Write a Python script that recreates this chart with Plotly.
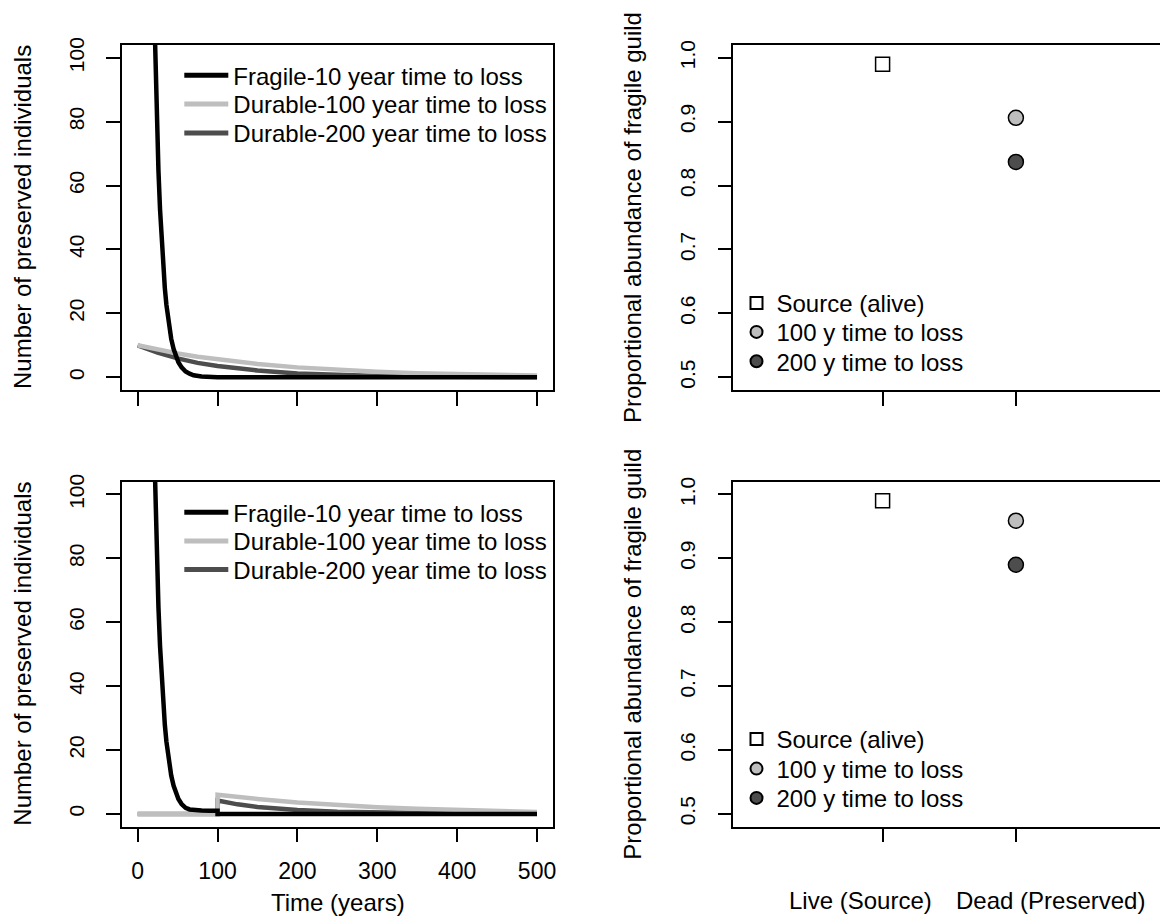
import plotly.graph_objects as go

W, H = 1160, 924
FONT = "Liberation Sans, Arial, Helvetica, sans-serif"

# ---------------- data ----------------
# Left panels: number of preserved individuals over time (years)
frag_t = [0, 10, 18, 20, 22, 24, 26, 28, 30, 32, 34, 36, 38, 40, 42, 45, 48, 51, 55, 60,
          65, 70, 80, 90, 100, 200, 300, 400, 500]
frag_top = [1000, 368, 150, 122, 98.7, 79.9, 64.7, 52.5, 42.5, 34.4, 27.9, 22.6, 18.3, 14.8, 12.0,
            8.8, 6.4, 4.7, 3.1, 1.8, 1.1, 0.6, 0.2, 0.08, 0.03, 0, 0, 0, 0]

dur100_t = [0, 25, 50, 75, 100, 150, 200, 250, 300, 350, 400, 450, 500]
dur100_top = [10, 8.6, 7.45, 6.4, 5.55, 4.14, 3.08, 2.3, 1.71, 1.28, 0.95, 0.71, 0.53]

dur200_t = [0, 25, 50, 75, 100, 150, 200, 250, 300, 400, 500]
dur200_top = [10, 7.7, 5.9, 4.5, 3.5, 2.1, 1.2, 0.7, 0.42, 0.15, 0.05]

frag_bot_t = [0, 10, 18, 20, 22, 24, 26, 28, 30, 32, 34, 36, 38, 40, 42, 45, 48, 51, 55, 60,
              65, 70, 80, 90, 100, 100, 200, 300, 400, 500]
frag_bot = [1000, 368, 150, 122, 98.7, 79.9, 64.7, 52.5, 42.5, 34.4, 27.9, 22.6, 18.3, 14.8, 12.0,
            8.8, 6.4, 4.7, 3.1, 1.9, 1.4, 1.2, 1.1, 1.0, 1.0, 0, 0, 0, 0, 0]

dur100_bot_t = [0, 100, 100, 125, 150, 200, 250, 300, 350, 400, 450, 500]
dur100_bot = [0, 0, 6.0, 5.3, 4.7, 3.6, 2.8, 2.1, 1.6, 1.2, 0.85, 0.6]

dur200_bot_t = [0, 100, 100, 125, 150, 200, 250, 300, 400, 500]
dur200_bot = [0, 0, 4.2, 3.0, 2.2, 1.2, 0.7, 0.4, 0.15, 0.05]

line_names = ["Fragile-10 year time to loss", "Durable-100 year time to loss",
              "Durable-200 year time to loss"]

# Right panels: proportional abundance of fragile guild
categories = ["Live (Source)", "Dead (Preserved)"]
cat_x = [1, 2]
point_names = ["Source (alive)", "100 y time to loss", "200 y time to loss"]
prop_top = [0.990, 0.906, 0.837]
prop_bot = [0.990, 0.959, 0.890]

time_ticks = [0, 100, 200, 300, 400, 500]
count_ticks = [0, 20, 40, 60, 80, 100]
prop_ticks = [0.5, 0.6, 0.7, 0.8, 0.9, 1.0]
prop_ticklabels = ["0.5", "0.6", "0.7", "0.8", "0.9", "1.0"]

y_title_left = "Number of preserved individuals"
y_title_right = "Proportional abundance of fragile guild"
x_title = "Time (years)"

# ---------------- styling ----------------
C_BLACK = "#000000"
C_LIGHT = "#bebebe"
C_DARK = "#4d4d4d"
LW = 4.5


def px_x(p):
    return p / W


def px_y(p):
    return 1 - p / H


fig = go.Figure()

legend_layouts = {}
leg_counter = [0]


def new_legend(x_px, y_px, size=24, itemwidth=30):
    leg_counter[0] += 1
    k = leg_counter[0]
    key = "legend" if k == 1 else f"legend{k}"
    legend_layouts[key] = dict(
        x=px_x(x_px), y=px_y(y_px), xanchor="left", yanchor="middle",
        bgcolor="rgba(0,0,0,0)", borderwidth=0,
        font=dict(family=FONT, size=size, color="black"),
        itemwidth=itemwidth, itemsizing="constant",
    )
    return key


def add_lines(row_axes, data, legend_rows):
    xa, ya = row_axes
    order = [2, 1, 0]
    colors = [C_BLACK, C_LIGHT, C_DARK]
    for i in order:
        t, v = data[i]
        fig.add_trace(go.Scatter(
            x=t, y=v, mode="lines", name=line_names[i],
            line=dict(color=colors[i], width=LW),
            xaxis=xa, yaxis=ya, legend=legend_rows[i], hoverinfo="skip",
        ))


LEG_X_LEFT = 179.3
LEG_IW = 44
top_left_rows = [new_legend(LEG_X_LEFT, y, itemwidth=LEG_IW) for y in (75.7, 104.5, 133.3)]
bot_left_rows = [new_legend(LEG_X_LEFT, y, itemwidth=LEG_IW) for y in (512.7, 541.3, 570)]

add_lines(("x", "y"), [(frag_t, frag_top), (dur100_t, dur100_top), (dur200_t, dur200_top)], top_left_rows)
add_lines(("x3", "y3"), [(frag_bot_t, frag_bot), (dur100_bot_t, dur100_bot), (dur200_bot_t, dur200_bot)],
          bot_left_rows)


def add_points(row_axes, values, legend_rows):
    xa, ya = row_axes
    styles = [
        dict(symbol="square", size=14, color="white", line=dict(color="black", width=1.5)),
        dict(symbol="circle", size=15, color=C_LIGHT, line=dict(color="black", width=1.5)),
        dict(symbol="circle", size=15, color=C_DARK, line=dict(color="black", width=1.5)),
    ]
    xs = [cat_x[0], cat_x[1], cat_x[1]]
    for i in range(3):
        fig.add_trace(go.Scatter(
            x=[xs[i]], y=[values[i]], mode="markers", name=point_names[i],
            marker=styles[i], xaxis=xa, yaxis=ya, legend=legend_rows[i],
            hoverinfo="skip", cliponaxis=False,
        ))


LEG_X_RIGHT = 736.5
top_right_rows = [new_legend(LEG_X_RIGHT, y) for y in (303.3, 332.3, 361.7)]
bot_right_rows = [new_legend(LEG_X_RIGHT, y) for y in (739.3, 769, 798.3)]
add_points(("x2", "y2"), prop_top, top_right_rows)
add_points(("x4", "y4"), prop_bot, bot_right_rows)

# ---------------- axes ----------------
common = dict(showgrid=False, zeroline=False, showline=True, linecolor="black", linewidth=1.5,
              ticks="outside", ticklen=14, tickwidth=1.5, tickcolor="black",
              tickfont=dict(family=FONT, size=23, color="black"), fixedrange=True, automargin=False)

left_dom = [px_x(121.7), px_x(553)]
right_dom = [px_x(733.3), 1.0]
top_dom = [px_y(390), px_y(45)]
bot_dom = [px_y(826.7), px_y(481.7)]

yleft = dict(common, range=[-4, 104], tickmode="array", tickvals=count_ticks, tickangle=-90,
             tickfont=dict(family=FONT, size=21, color="black"), ticklabelstandoff=14, mirror=True)
yright = dict(common, range=[0.48, 1.02], tickmode="array", tickvals=prop_ticks, ticktext=prop_ticklabels,
              tickangle=-90, tickfont=dict(family=FONT, size=21, color="black"), ticklabelstandoff=14,
              mirror=False)
xleft = dict(common, range=[-20, 520], tickmode="array", tickvals=time_ticks, mirror=True)
xright = dict(common, range=[-0.12, 3.081], tickmode="array", tickvals=cat_x, showticklabels=False,
              mirror=True)

fig.update_layout(
    xaxis=dict(xleft, domain=left_dom, anchor="y", showticklabels=False),
    yaxis=dict(yleft, domain=top_dom, anchor="x"),
    xaxis2=dict(xright, domain=right_dom, anchor="y2"),
    yaxis2=dict(yright, domain=top_dom, anchor="x2"),
    xaxis3=dict(xleft, domain=left_dom, anchor="y3", showticklabels=True, ticklabelstandoff=9),
    yaxis3=dict(yleft, domain=bot_dom, anchor="x3"),
    xaxis4=dict(xright, domain=right_dom, anchor="y4"),
    yaxis4=dict(yright, domain=bot_dom, anchor="x4"),
)

# ---------------- titles / labels (text) ----------------
ann = []
title_font = dict(family=FONT, size=24, color="black")
for yc in [(45 + 390) / 2, (481.7 + 826.7) / 2]:
    ann.append(dict(text=y_title_left, x=px_x(22.5), y=px_y(yc), xref="paper", yref="paper",
                    textangle=-90, showarrow=False, font=title_font, xanchor="center", yanchor="middle"))
    ann.append(dict(text=y_title_right, x=px_x(632.5), y=px_y(yc), xref="paper", yref="paper",
                    textangle=-90, showarrow=False, font=title_font, xanchor="center", yanchor="middle"))
ann.append(dict(text=x_title, x=px_x(338.3), y=px_y(902), xref="paper", yref="paper",
                showarrow=False, font=title_font, xanchor="center", yanchor="middle"))
for lbl, xc in zip(categories, [0.836, 2.256]):
    ann.append(dict(text=lbl, x=xc, y=px_y(900), xref="x4", yref="paper", showarrow=False,
                    font=title_font, xanchor="center", yanchor="middle"))

fig.update_layout(
    width=W, height=H, margin=dict(l=0, r=0, t=0, b=0, autoexpand=False),
    paper_bgcolor="white", plot_bgcolor="white",
    showlegend=True, annotations=ann,
    font=dict(family=FONT, size=23, color="black"),
    **legend_layouts,
)

fig.write_html("out.html", config={"displayModeBar": False},
               post_script="document.body.style.margin='0px';document.body.style.overflow='hidden';")
